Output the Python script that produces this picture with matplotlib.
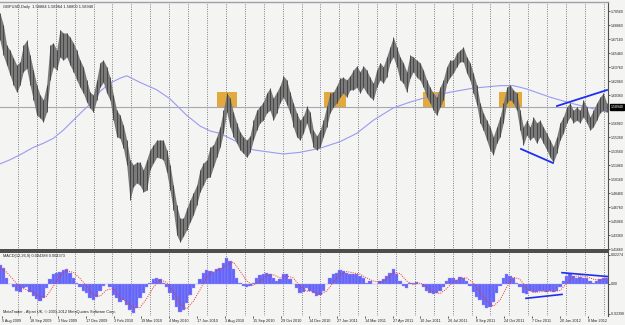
import matplotlib
matplotlib.use("Agg")
import matplotlib.pyplot as plt
from matplotlib.patches import Rectangle

plt.rcParams['font.family'] = ['Liberation Sans', 'DejaVu Sans']

# ---------------- data ----------------
price_high = [
    1.703, 1.689, 1.664, 1.658, 1.649, 1.640, 1.644, 1.664, 1.670, 1.652,
    1.634, 1.616, 1.604, 1.598, 1.616, 1.664, 1.667, 1.658, 1.683, 1.679,
    1.679, 1.674, 1.667, 1.658, 1.646, 1.638, 1.622, 1.607, 1.604, 1.622,
    1.643, 1.646, 1.638, 1.625, 1.604, 1.585, 1.579, 1.567, 1.549, 1.525,
    1.519, 1.522, 1.522, 1.513, 1.525, 1.537, 1.543, 1.549, 1.549, 1.549,
    1.537, 1.519, 1.494, 1.470, 1.454, 1.454, 1.466, 1.476, 1.485, 1.494,
    1.513, 1.521, 1.525, 1.540, 1.543, 1.553, 1.565, 1.585, 1.606, 1.600,
    1.583, 1.570, 1.559, 1.553, 1.549, 1.554, 1.573, 1.585, 1.590, 1.595,
    1.606, 1.612, 1.600, 1.607, 1.615, 1.627, 1.622, 1.607, 1.594, 1.582,
    1.573, 1.578, 1.590, 1.583, 1.561, 1.554, 1.561, 1.573, 1.590, 1.606,
    1.607, 1.615, 1.624, 1.625, 1.622, 1.627, 1.634, 1.639, 1.632, 1.639,
    1.634, 1.625, 1.618, 1.634, 1.643, 1.638, 1.650, 1.662, 1.674, 1.662,
    1.650, 1.643, 1.632, 1.652, 1.650, 1.646, 1.643, 1.634, 1.622, 1.613,
    1.606, 1.601, 1.613, 1.622, 1.638, 1.646, 1.646, 1.655, 1.658, 1.662,
    1.650, 1.643, 1.630, 1.616, 1.594, 1.582, 1.573, 1.565, 1.553, 1.565,
    1.577, 1.594, 1.613, 1.616, 1.610, 1.606, 1.585, 1.565, 1.573, 1.565,
    1.577, 1.570, 1.573, 1.565, 1.557, 1.549, 1.541, 1.553, 1.570, 1.577,
    1.589, 1.594, 1.585, 1.589, 1.585, 1.598, 1.589, 1.577, 1.585, 1.594,
    1.601, 1.606, 1.594,
]
price_low = [
    1.670, 1.652, 1.640, 1.628, 1.616, 1.607, 1.616, 1.632, 1.636, 1.616,
    1.598, 1.579, 1.576, 1.571, 1.583, 1.622, 1.638, 1.634, 1.650, 1.646,
    1.650, 1.640, 1.632, 1.622, 1.613, 1.606, 1.595, 1.588, 1.583, 1.598,
    1.613, 1.619, 1.606, 1.598, 1.573, 1.553, 1.551, 1.539, 1.519, 1.476,
    1.492, 1.497, 1.494, 1.486, 1.488, 1.513, 1.521, 1.528, 1.527, 1.525,
    1.510, 1.488, 1.464, 1.434, 1.425, 1.432, 1.440, 1.449, 1.458, 1.470,
    1.486, 1.494, 1.503, 1.504, 1.516, 1.528, 1.540, 1.557, 1.583, 1.565,
    1.553, 1.545, 1.537, 1.533, 1.528, 1.534, 1.549, 1.561, 1.570, 1.573,
    1.582, 1.585, 1.573, 1.582, 1.594, 1.601, 1.592, 1.582, 1.565, 1.553,
    1.549, 1.557, 1.570, 1.557, 1.540, 1.537, 1.540, 1.553, 1.565, 1.582,
    1.589, 1.594, 1.601, 1.606, 1.601, 1.610, 1.610, 1.613, 1.606, 1.613,
    1.606, 1.601, 1.598, 1.613, 1.622, 1.618, 1.626, 1.643, 1.650, 1.638,
    1.622, 1.618, 1.607, 1.624, 1.632, 1.625, 1.622, 1.613, 1.601, 1.594,
    1.585, 1.579, 1.589, 1.598, 1.618, 1.625, 1.630, 1.638, 1.644, 1.644,
    1.630, 1.622, 1.606, 1.592, 1.570, 1.561, 1.549, 1.537, 1.531, 1.545,
    1.553, 1.570, 1.594, 1.598, 1.594, 1.585, 1.561, 1.543, 1.555, 1.549,
    1.553, 1.545, 1.553, 1.545, 1.537, 1.528, 1.522, 1.533, 1.549, 1.557,
    1.570, 1.577, 1.570, 1.573, 1.570, 1.577, 1.570, 1.561, 1.565, 1.573,
    1.582, 1.585, 1.583,
]

# moving average (bar index, value)
ma_idx = [0, 3, 6, 10, 13, 16, 19, 22, 25, 28, 30, 33, 36, 38, 42, 47, 51, 56,
          60, 63, 66, 71, 76, 85, 90, 96, 102, 107, 112, 118, 123, 128, 135,
          142, 150, 154, 158, 165, 171, 177, 182]
ma_val = [1.520, 1.525, 1.531, 1.540, 1.545, 1.551, 1.561, 1.573, 1.585, 1.596,
          1.608, 1.618, 1.624, 1.627, 1.619, 1.610, 1.599, 1.579, 1.566, 1.560,
          1.557, 1.547, 1.537, 1.532, 1.534, 1.539, 1.547, 1.557, 1.573, 1.588,
          1.595, 1.601, 1.607, 1.612, 1.615, 1.615, 1.611, 1.601, 1.594, 1.588,
          1.583]

macd_main = [
    0.0148, 0.0125, 0.0047, 0.0000, -0.0031, -0.0055, -0.0070, -0.0039, -0.0031, -0.0070,
    -0.0101, -0.0125, -0.0140, -0.0117, -0.0039, 0.0039, 0.0078, 0.0086, 0.0094, 0.0109,
    0.0117, 0.0086, 0.0047, 0.0008, -0.0031, -0.0055, -0.0078, -0.0117, -0.0133, -0.0109,
    -0.0055, -0.0016, 0.0000, -0.0031, -0.0094, -0.0117, -0.0148, -0.0133, -0.0172, -0.0211,
    -0.0234, -0.0195, -0.0117, -0.0078, -0.0031, 0.0008, 0.0039, 0.0047, 0.0039, 0.0008,
    -0.0031, -0.0078, -0.0133, -0.0187, -0.0226, -0.0211, -0.0156, -0.0094, -0.0039, 0.0000,
    0.0039, 0.0086, 0.0109, 0.0101, 0.0094, 0.0117, 0.0125, 0.0164, 0.0203, 0.0179,
    0.0117, 0.0047, 0.0008, -0.0016, -0.0031, -0.0023, 0.0008, 0.0047, 0.0070, 0.0078,
    0.0086, 0.0078, 0.0047, 0.0023, 0.0039, 0.0078, 0.0078, 0.0039, 0.0000, -0.0039,
    -0.0078, -0.0070, -0.0039, -0.0055, -0.0078, -0.0101, -0.0094, -0.0055, 0.0000, 0.0047,
    0.0078, 0.0086, 0.0109, 0.0101, 0.0086, 0.0078, 0.0078, 0.0078, 0.0062, 0.0047,
    0.0008, 0.0023, 0.0000, 0.0000, 0.0023, 0.0039, 0.0062, 0.0086, 0.0117, 0.0078,
    0.0023, -0.0016, -0.0039, 0.0008, 0.0008, 0.0016, 0.0000, -0.0031, -0.0055, -0.0078,
    -0.0086, -0.0078, -0.0055, -0.0031, 0.0023, 0.0047, 0.0047, 0.0031, 0.0055, 0.0047,
    0.0023, -0.0016, -0.0070, -0.0109, -0.0133, -0.0172, -0.0195, -0.0187, -0.0148, -0.0078,
    -0.0016, 0.0047, 0.0078, 0.0062, 0.0047, 0.0008, -0.0031, -0.0078, -0.0086, -0.0055,
    -0.0070, -0.0070, -0.0055, -0.0062, -0.0070, -0.0055, -0.0070, -0.0055, -0.0031, 0.0023,
    0.0062, 0.0078, 0.0062, 0.0047, 0.0055, 0.0047, 0.0047, 0.0023, 0.0008, 0.0023,
    0.0039, 0.0047, 0.0044,
]
signal_idx = list(range(0, 183, 2))
macd_signal = [
    0.0120, 0.0090, 0.0030, -0.0030, -0.0050, -0.0070, -0.0105, -0.0100, -0.0020, 0.0060,
    0.0100, 0.0090, 0.0040, -0.0020, -0.0090, -0.0100, -0.0050, -0.0040, -0.0110, -0.0145,
    -0.0190, -0.0190, -0.0120, -0.0030, 0.0030, 0.0010, -0.0060, -0.0160, -0.0200, -0.0140,
    -0.0050, 0.0050, 0.0095, 0.0110, 0.0150, 0.0170, 0.0100, 0.0020, -0.0015, 0.0020,
    0.0065, 0.0070, 0.0045, 0.0060, 0.0045, -0.0020, -0.0060, -0.0060, -0.0085, -0.0060,
    0.0010, 0.0070, 0.0095, 0.0085, 0.0075, 0.0045, 0.0020, 0.0010, 0.0035, 0.0085,
    0.0080, 0.0020, -0.0010, 0.0005, -0.0025, -0.0065, -0.0080, -0.0040, 0.0015, 0.0040,
    0.0045, 0.0005, -0.0070, -0.0140, -0.0180, -0.0130, -0.0030, 0.0050, 0.0035, -0.0040,
    -0.0070, -0.0065, -0.0062, -0.0062, -0.0055, 0.0000, 0.0055, 0.0062, 0.0055, 0.0035,
    0.0025, 0.0044,
]

date_labels = ["5 Aug 2009", "18 Sep 2009", "3 Nov 2009", "17 Dec 2009", "3 Feb 2010",
               "19 Mar 2010", "4 May 2010", "17 Jun 2010", "3 Aug 2010", "15 Sep 2010",
               "29 Oct 2010", "14 Dec 2010", "27 Jan 2011", "14 Mar 2011", "27 Apr 2011",
               "10 Jun 2011", "26 Jul 2011", "8 Sep 2011", "24 Oct 2011", "7 Dec 2011",
               "20 Jan 2012", "8 Mar 2012"]
price_ticks = [1.70560, 1.68860, 1.67160, 1.65460, 1.63760, 1.62060, 1.60360,
               1.56960, 1.55260, 1.53560, 1.51860, 1.50160, 1.48460, 1.46760,
               1.45060, 1.43360, 1.41660]
last_price = 1.58940
header_ohlc = ["1.58884", "1.58964", "1.58800", "1.58940"]
macd_header = ["0.004388", "0.004373"]
macd_ticks = [0.02274, 0.0, -0.02398]
macd_tick_labels = ["0.02274", "0.00", "-0.02398"]

# highlighted zones: (start bar, end bar), price range
zone_bars = [(65.1, 71.1), (97.2, 103.8), (126.9, 133.5), (149.7, 156.6)]
zone_lo, zone_hi = 1.589, 1.607
# trend lines (bar, value)
price_lines = [((167.1, 1.5903), (182.1, 1.6097)), ((156.3, 1.5381), (165.9, 1.5211))]
macd_lines = [((168.6, 0.0086), (182.7, 0.0055)), ((157.8, -0.0117), (168.6, -0.0086))]

# ---------------- figure ----------------
W, H = 625, 325
fig = plt.figure(figsize=(W / 100, H / 100), dpi=100)
bg = '#f4f4f2'
fig.patch.set_facecolor(bg)
xr = 608 / 625
ax = fig.add_axes([0, 1 - 250 / H, xr, 248 / H], facecolor=bg)
am = fig.add_axes([0, 1 - 316 / H, xr, 64 / H], facecolor=bg, sharex=ax)

n = len(price_high)
xs = list(range(n))
XMAX = 182.4
ax.set_xlim(0, XMAX)
ax.set_ylim(1.4154, 1.7166)
am.set_ylim(-0.0257, 0.0250)

grid_pos = [(18 + 18.9 * j) * 0.3 for j in range(32)]
for a in (ax, am):
    for g in grid_pos:
        a.axvline(g, color='#5a5a66', lw=0.55, ls=(0, (1.2, 1.8)), zorder=1)
    a.spines['left'].set_visible(False)
    a.spines['right'].set_color('#505050')
    a.spines['right'].set_linewidth(0.8)

ax.spines['top'].set_color('#a0a0a8')
ax.spines['top'].set_linewidth(1.0)
ax.spines['bottom'].set_color('#4a4a4a')
ax.spines['bottom'].set_linewidth(1.4)
am.spines['top'].set_color('#4a4a4a')
am.spines['top'].set_linewidth(1.4)
am.spines['bottom'].set_visible(False)

# zones
for (a0, a1) in zone_bars:
    ax.add_patch(Rectangle((a0, zone_lo), a1 - a0, zone_hi - zone_lo,
                           facecolor='#e0a12a', edgecolor='none', alpha=0.9, zorder=2))

ax.axhline(last_price, color='#a6a6b4', lw=0.8, zorder=2)
ax.plot(ma_idx, ma_val, color='#9a9af2', lw=0.8, zorder=3)

ax.fill_between(xs, price_low, price_high, color='#747474', lw=0, zorder=4, alpha=0.95)
ax.vlines(xs, price_low, price_high, colors='#3e3e3e', lw=0.6, zorder=5)

for (p0, p1) in price_lines:
    ax.plot([p0[0], p1[0]], [p0[1], p1[1]], color='#1e2ef0', lw=1.3, zorder=6)

# price axis
ax.yaxis.tick_right()
ax.set_yticks(price_ticks)
ax.set_yticklabels([f"{v:.5f}" for v in price_ticks])
ax.tick_params(axis='y', labelsize=2.5, length=1.5, width=0.5, pad=0.8, colors='#222222')
ax.tick_params(axis='x', bottom=False, labelbottom=False)
ax.text(XMAX * 1.004, last_price, f"{last_price:.5f}", fontsize=2.5, color='white',
        va='center', ha='left', clip_on=False, zorder=10,
        bbox=dict(boxstyle='square,pad=0.25', fc='black', ec='black'))
ax.text(0.005, 0.988, "GBPUSD,Daily  " + " ".join(header_ohlc), transform=ax.transAxes,
        fontsize=2.9, va='top', ha='left', color='#222222')

# MACD
am.bar(xs, macd_main, width=1.0, color='#6464f6', edgecolor='#9c9cff', lw=0.25, zorder=3)
am.plot(signal_idx, macd_signal, color='#f03030', lw=0.7, ls=(0, (1, 1.3)), zorder=4)
for (p0, p1) in macd_lines:
    am.plot([p0[0], p1[0]], [p0[1], p1[1]], color='#1e2ef0', lw=1.2, zorder=6)
am.yaxis.tick_right()
am.set_yticks(macd_ticks)
am.set_yticklabels(macd_tick_labels)
am.tick_params(axis='y', labelsize=2.5, length=1.5, width=0.5, pad=0.8, colors='#222222')
am.text(0.005, 0.97, "MACD(12,26,9) " + " ".join(macd_header), transform=am.transAxes,
        fontsize=2.8, va='top', ha='left', color='#222222')
am.text(0.005, 0.03, "MetaTrader - Alpari UK, \u00a9 2001-2012 MetaQuotes Software Corp.",
        transform=am.transAxes, fontsize=2.8, va='bottom', ha='left', color='#222222')

label_pos = [(2 + 27.9 * i) * 0.3 for i in range(len(date_labels))]
am.set_xticks(label_pos)
am.set_xticklabels(date_labels, ha='left')
am.tick_params(axis='x', labelsize=2.7, length=1.5, width=0.5, pad=1, colors='#222222')

fig.savefig("out.png", dpi=100, facecolor=fig.get_facecolor())
